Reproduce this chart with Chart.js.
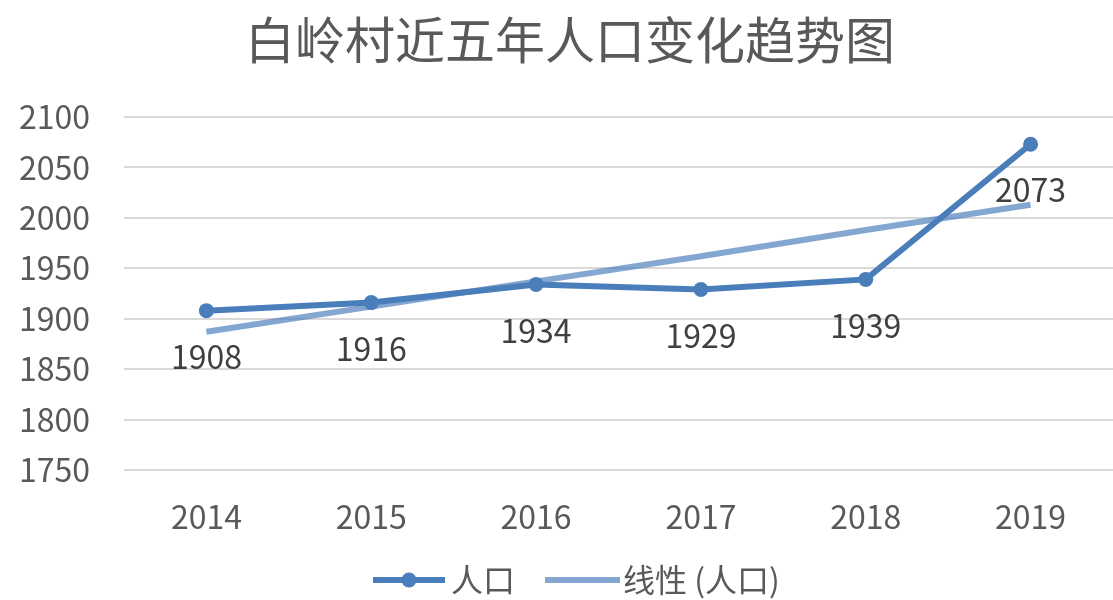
<!DOCTYPE html>
<html lang="zh-CN">
<head>
    <meta charset="UTF-8">
    <title>白岭村近五年人口变化趋势图</title>
    <script src="https://cdn.jsdelivr.net/npm/chart.js"></script>
    <style>
        body { margin: 0; background: #fff; }
        #wrap { width: 1113px; height: 600px; }
    </style>
</head>
<body>
    <div id="wrap"><canvas id="popChart" width="1113" height="600"></canvas></div>
    <script>
        const years = ['2014', '2015', '2016', '2017', '2018', '2019'];
        const population = [1908, 1916, 1934, 1929, 1939, 2073];
        // trend line
        const trend = [1887, 1912, 1937, 1962, 1988, 2013];
        const yTicks = [1750, 1800, 1850, 1900, 1950, 2000, 2050, 2100];
        const seriesNames = ['人口', '线性 (人口)'];
        const chartTitle = '白岭村近五年人口变化趋势图';

        const fontFam = "'Noto Sans CJK SC', 'Noto Sans', sans-serif";
        const mainColor = '#4A7EBB';
        const trendColor = 'rgba(74,126,187,0.68)';

        // title, value labels and the legend are drawn by hand so they sit where Excel put them
        const extras = {
            id: 'extras',
            afterDatasetsDraw(chart) {
                const ctx = chart.ctx;
                const meta = chart.getDatasetMeta(0);
                ctx.save();
                ctx.font = '32px ' + fontFam;
                ctx.fillStyle = '#404040';
                ctx.textAlign = 'center';
                ctx.textBaseline = 'middle';
                meta.data.forEach((pt, i) => {
                    ctx.fillText(String(population[i]), pt.x, pt.y + 46);
                });
                ctx.restore();
            },
            afterDraw(chart) {
                const ctx = chart.ctx;
                ctx.save();
                ctx.fillStyle = '#595959';
                ctx.textBaseline = 'middle';
                ctx.textAlign = 'center';
                ctx.font = '50px ' + fontFam;
                ctx.fillText(chartTitle, 570, 40);

                // legend
                const ly = 580;
                ctx.lineWidth = 6;
                ctx.strokeStyle = mainColor;
                ctx.beginPath(); ctx.moveTo(373, ly); ctx.lineTo(445, ly); ctx.stroke();
                ctx.fillStyle = mainColor;
                ctx.beginPath(); ctx.arc(409, ly, 7.5, 0, Math.PI * 2); ctx.fill();
                ctx.strokeStyle = trendColor;
                ctx.beginPath(); ctx.moveTo(545, ly); ctx.lineTo(620, ly); ctx.stroke();
                ctx.fillStyle = '#595959';
                ctx.textAlign = 'left';
                ctx.font = '32px ' + fontFam;
                ctx.fillText(seriesNames[0], 451, ly);
                ctx.fillText(seriesNames[1], 623, ly);
                ctx.restore();
            }
        };

        const ctx = document.getElementById('popChart').getContext('2d');
        new Chart(ctx, {
            type: 'line',
            data: {
                labels: years,
                datasets: [{
                    label: seriesNames[0],
                    data: population,
                    borderColor: mainColor,
                    backgroundColor: mainColor,
                    borderWidth: 6,
                    pointRadius: 7.5,
                    pointHoverRadius: 7.5,
                    pointBorderWidth: 0,
                    tension: 0
                }, {
                    label: seriesNames[1],
                    data: trend,
                    borderColor: trendColor,
                    backgroundColor: trendColor,
                    borderWidth: 6,
                    pointRadius: 0,
                    tension: 0
                }]
            },
            options: {
                responsive: false,
                animation: false,
                layout: { autoPadding: false, padding: { left: 0, right: 0, top: 117, bottom: 0 } },
                plugins: {
                    title: { display: false },
                    legend: { display: false },
                    tooltip: { enabled: false }
                },
                scales: {
                    x: {
                        offset: true,
                        afterFit(scale) { scale.height = 130; },
                        grid: { display: false, drawTicks: false },
                        border: { display: false },
                        ticks: { color: '#595959', padding: 28, font: { family: fontFam, size: 32 } }
                    },
                    y: {
                        min: 1750,
                        max: 2100,
                        afterFit(scale) { scale.width = 124; },
                        afterBuildTicks(scale) { scale.ticks = yTicks.map(v => ({ value: v })); },
                        grid: { color: '#D9D9D9', lineWidth: 2, drawTicks: false },
                        border: { display: false },
                        ticks: {
                            color: '#595959',
                            padding: 34,
                            font: { family: fontFam, size: 32 },
                            callback: v => String(v)
                        }
                    }
                }
            },
            plugins: [extras]
        });
    </script>
</body>
</html>
